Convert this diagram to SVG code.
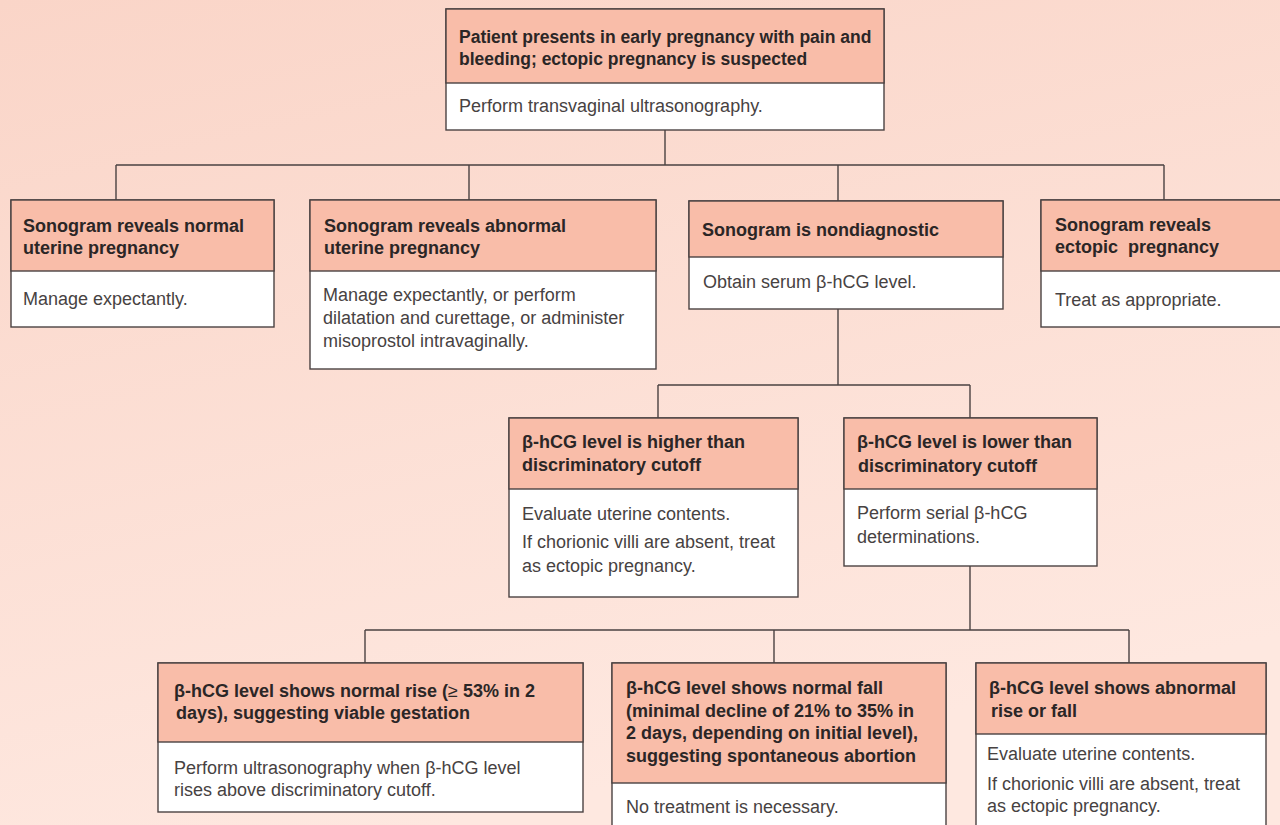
<svg xmlns="http://www.w3.org/2000/svg" width="1280" height="825" viewBox="0 0 1280 825">
<defs>
<linearGradient id="bg" x1="0" y1="0" x2="0.35" y2="1">
<stop offset="0" stop-color="#FAD5C8"/>
<stop offset="1" stop-color="#FEE8E0"/>
</linearGradient>
<style>
.box{fill:#ffffff;stroke:#4a4242;stroke-width:1.4}
.hd{fill:#F9BDA9;stroke:#4a4242;stroke-width:1.4}
.h{font-family:"Liberation Sans",Arial,sans-serif;font-weight:bold;font-size:18px;fill:#2b2626}
.ht{font-size:17.5px}
.b{font-family:"Liberation Sans",Arial,sans-serif;font-size:18px;fill:#474242}
.c{fill:none;stroke:#4a4242;stroke-width:1.4}
</style>
</defs>
<rect x="0" y="0" width="1280" height="825" fill="url(#bg)"/>

<g id="connectors">
<path class="c" d="M665,130 V165 M116,165 H1164 M116,165 V200 M469,165 V200 M838,165 V201 M1164,165 V200"/>
<path class="c" d="M838,309 V385 M658,385 H970 M658,385 V418 M970,385 V418"/>
<path class="c" d="M970,566 V630 M365,630 H1129 M365,630 V663 M774,630 V663 M1129,630 V663"/>
</g>

<g id="n0">
<rect class="box" x="446" y="9" width="438" height="121"/>
<rect class="hd" x="446" y="9" width="438" height="74"/>
<text class="h ht" x="459" y="43">Patient presents in early pregnancy with pain and</text>
<text class="h ht" x="459" y="65">bleeding; ectopic pregnancy is suspected</text>
<text class="b" x="459" y="112">Perform transvaginal ultrasonography.</text>
</g>

<g id="n1">
<rect class="box" x="11" y="200" width="263" height="127"/>
<rect class="hd" x="11" y="200" width="263" height="71"/>
<text class="h" x="23" y="232">Sonogram reveals normal</text>
<text class="h" x="23" y="254">uterine pregnancy</text>
<text class="b" x="23" y="305">Manage expectantly.</text>
</g>

<g id="n2">
<rect class="box" x="310" y="200" width="346" height="169"/>
<rect class="hd" x="310" y="200" width="346" height="71"/>
<text class="h" x="324" y="232">Sonogram reveals abnormal</text>
<text class="h" x="324" y="254">uterine pregnancy</text>
<text class="b" x="323" y="301">Manage expectantly, or perform</text>
<text class="b" x="323" y="324">dilatation and curettage, or administer</text>
<text class="b" x="323" y="347">misoprostol intravaginally.</text>
</g>

<g id="n3">
<rect class="box" x="689" y="201" width="314" height="108"/>
<rect class="hd" x="689" y="201" width="314" height="56"/>
<text class="h" x="702" y="236">Sonogram is nondiagnostic</text>
<text class="b" x="703" y="288">Obtain serum β-hCG level.</text>
</g>

<g id="n4">
<rect class="box" x="1041" y="200" width="250" height="127"/>
<rect class="hd" x="1041" y="200" width="250" height="71"/>
<text class="h" x="1055" y="231">Sonogram reveals</text>
<text class="h" x="1055" y="253" xml:space="preserve">ectopic  pregnancy</text>
<text class="b" x="1055" y="306">Treat as appropriate.</text>
</g>

<g id="n5">
<rect class="box" x="509" y="418" width="289" height="179"/>
<rect class="hd" x="509" y="418" width="289" height="71"/>
<text class="h" x="522" y="448">β-hCG level is higher than</text>
<text class="h" x="522" y="471">discriminatory cutoff</text>
<text class="b" x="522" y="520">Evaluate uterine contents.</text>
<text class="b" x="522" y="548">If chorionic villi are absent, treat</text>
<text class="b" x="522" y="572">as ectopic pregnancy.</text>
</g>

<g id="n6">
<rect class="box" x="844" y="418" width="253" height="148"/>
<rect class="hd" x="844" y="418" width="253" height="71"/>
<text class="h" x="857" y="448">β-hCG level is lower than</text>
<text class="h" x="858" y="472">discriminatory cutoff</text>
<text class="b" x="857" y="519">Perform serial β-hCG</text>
<text class="b" x="857" y="543">determinations.</text>
</g>

<g id="n7">
<rect class="box" x="158" y="663" width="425" height="149"/>
<rect class="hd" x="158" y="663" width="425" height="79"/>
<text class="h" x="174" y="697">β-hCG level shows normal rise (<tspan font-weight="normal">≥</tspan> 53% in 2</text>
<text class="h" x="176" y="719">days), suggesting viable gestation</text>
<text class="b" x="174" y="774">Perform ultrasonography when β-hCG level</text>
<text class="b" x="174" y="796">rises above discriminatory cutoff.</text>
</g>

<g id="n8">
<rect class="box" x="612" y="663" width="334" height="180"/>
<rect class="hd" x="612" y="663" width="334" height="120"/>
<text class="h" x="626" y="694">β-hCG level shows normal fall</text>
<text class="h" x="626" y="717">(minimal decline of 21% to 35% in</text>
<text class="h" x="626" y="739">2 days, depending on initial level),</text>
<text class="h" x="626" y="762">suggesting spontaneous abortion</text>
<text class="b" x="626" y="813">No treatment is necessary.</text>
</g>

<g id="n9">
<rect class="box" x="976" y="663" width="290" height="180"/>
<rect class="hd" x="976" y="663" width="290" height="71"/>
<text class="h" x="989" y="694">β-hCG level shows abnormal</text>
<text class="h" x="991" y="717">rise or fall</text>
<text class="b" x="987" y="760">Evaluate uterine contents.</text>
<text class="b" x="987" y="790">If chorionic villi are absent, treat</text>
<text class="b" x="987" y="812">as ectopic pregnancy.</text>
</g>
</svg>
